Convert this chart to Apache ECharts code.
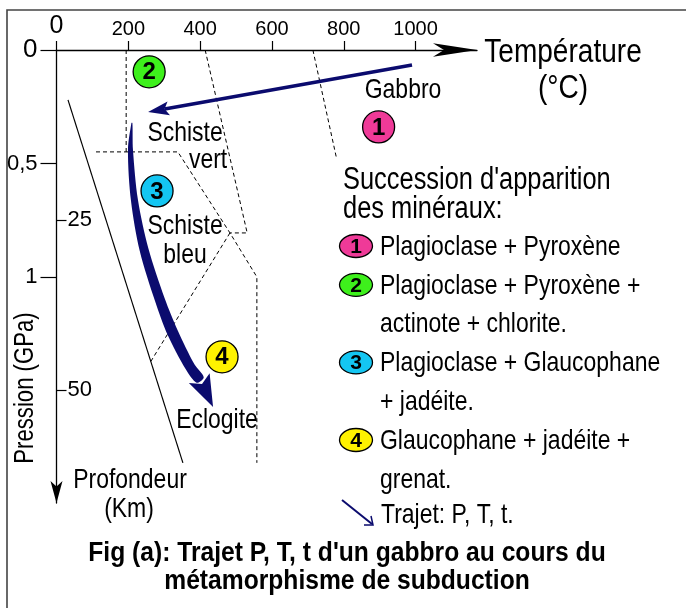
<!DOCTYPE html>
<html>
<head>
<meta charset="utf-8">
<script src="https://cdn.jsdelivr.net/npm/echarts@6/dist/echarts.min.js"></script>
<style>
html, body { margin: 0; padding: 0; background: #fff; }
#chart { width: 686px; height: 608px; }
</style>
</head>
<body>
<div id="chart"></div>
<script>
// ---- données (T en °C, P en GPa) ----
var tempTicks = [0, 200, 400, 600, 800, 1000];
var pressTicks = [0, 0.5, 1];
var depthTicks = [25, 50];

// limites des faciès (pointillés)
var faciesLines = [
    [[194, 0], [194, 0.449]],
    [[110, 0.449], [338, 0.449], [483, 0.806], [558, 1.0], [558, 1.819]],
    [[414, 0], [531, 0.806], [483, 0.806]],
    [[483, 0.806], [260, 1.379]],
    [[714, 0], [779, 0.471]]
];
// trait plein (géotherme de la plaque plongeante)
var geotherme = [[32, 0.22], [352, 1.819]];

// trajets P, T, t
var trajetGabbro = [[990, 0.066], [255, 0.273]];
var trajetSubduction = [[210, 0.322], [206, 0.441], [217, 0.661], [244, 0.881],
    [288, 1.101], [324, 1.247], [372, 1.396], [400, 1.454], [436, 1.573]];

// numéros des associations minérales
var zoneNums = ['1', '2', '3', '4'];
var zonePos = [[897, 0.339], [258, 0.096], [280, 0.621], [461, 1.352]];
var zoneColors = ['#ef3a98', '#3ef01c', '#14c6f2', '#fff200'];

// noms des faciès
var faciesNames = ['Gabbro', 'Schiste', 'vert', 'Schiste', 'bleu', 'Eclogite'];
var faciesPos = [[965, 0.176], [358, 0.366], [422, 0.485], [358, 0.775], [358, 0.903], [447, 1.63]];

// légende
var legendTitle = ["Succession d'apparition", 'des minéraux:'];
var legendNums = ['1', '2', null, '3', null, '4', null];
var legendTexts = ['Plagioclase + Pyroxène', 'Plagioclase + Pyroxène +', 'actinote + chlorite.',
    'Plagioclase + Glaucophane', '+ jadéite.', 'Glaucophane + jadéite +', 'grenat.'];
var legendTrajet = 'Trajet: P, T, t.';
var caption = ["Fig (a): Trajet P, T, t d'un gabbro au cours du", 'métamorphisme de subduction'];

var REG = "'Liberation Sans', Arial, sans-serif";
var NX = 0.82; // police étroite simulée
var NAVY = '#0b0b6e';

function narrowText(x, y, text, size, align, extra, sx) {
    return {type: 'text', x: x, y: y, scaleX: sx || NX, style: {text: text,
        font: (extra || '') + size + 'px ' + REG, fill: '#000',
        align: align || 'left', verticalAlign: 'middle'}};
}

function headPoints(tip, from, len, wid) {
    var dx = tip[0] - from[0], dy = tip[1] - from[1];
    var l = Math.sqrt(dx * dx + dy * dy);
    dx /= l; dy /= l;
    var nx = -dy, ny = dx;
    var bx = tip[0] - dx * len, by = tip[1] - dy * len;
    return [tip, [bx + nx * wid / 2, by + ny * wid / 2],
        [tip[0] - dx * len * 0.8, tip[1] - dy * len * 0.8],
        [bx - nx * wid / 2, by - ny * wid / 2]];
}

function renderGabbro(params, api) {
    var a = api.coord(trajetGabbro[0]), b = api.coord(trajetGabbro[1]);
    var head = headPoints(b, a, 21, 14);
    return {type: 'group', children: [
        {type: 'line', shape: {x1: a[0], y1: a[1], x2: head[2][0], y2: head[2][1]},
            style: {stroke: NAVY, lineWidth: 3.5}},
        {type: 'polygon', shape: {points: head}, style: {fill: NAVY}}
    ]};
}

function renderSubduction(params, api) {
    var pts = trajetSubduction.map(function (p) { return api.coord(p); });
    var n = pts.length;
    var widths = [1, 5, 7, 9, 10, 11, 10, 9];
    var left = [], right = [];
    for (var i = 0; i < n - 1; i++) {
        var a = pts[Math.max(i - 1, 0)], b = pts[Math.min(i + 1, n - 2)];
        var dx = b[0] - a[0], dy = b[1] - a[1], l = Math.sqrt(dx * dx + dy * dy);
        var nx = -dy / l, ny = dx / l, w = widths[i] / 2;
        left.push([pts[i][0] + nx * w, pts[i][1] + ny * w]);
        right.unshift([pts[i][0] - nx * w, pts[i][1] - ny * w]);
    }
    return {type: 'group', children: [
        {type: 'polygon', shape: {points: left.concat(right), smooth: 0.3}, style: {fill: NAVY}},
        {type: 'polygon', shape: {points: headPoints(pts[n - 1], pts[n - 2], 32, 23)}, style: {fill: NAVY}}
    ]};
}

function renderZone(params, api) {
    var p = api.coord([api.value(0), api.value(1)]);
    var i = params.dataIndex;
    return {type: 'group', children: [
        {type: 'circle', shape: {cx: p[0], cy: p[1], r: 16},
            style: {fill: zoneColors[i], stroke: '#000', lineWidth: 1.3}},
        {type: 'text', x: p[0], y: p[1] + 1, style: {text: zoneNums[i], fill: '#000',
            font: 'bold 24px ' + REG, align: 'center', verticalAlign: 'middle'}}
    ]};
}

function renderFacies(params, api) {
    var p = api.coord([api.value(0), api.value(1)]);
    return narrowText(p[0], p[1], faciesNames[params.dataIndex], 28, 'center');
}

var series = [];
faciesLines.forEach(function (l) {
    series.push({type: 'line', data: l, symbol: 'none', silent: true,
        lineStyle: {color: '#000', width: 1, type: [4, 3]}});
});
series.push({type: 'line', data: geotherme, symbol: 'none', silent: true,
    lineStyle: {color: '#000', width: 1.2}});
series.push({type: 'custom', data: [0], renderItem: renderGabbro, silent: true, z: 5});
series.push({type: 'custom', data: [0], renderItem: renderSubduction, silent: true, z: 5});
series.push({type: 'custom', data: zonePos, renderItem: renderZone, silent: true, z: 6});
series.push({type: 'custom', data: faciesPos, renderItem: renderFacies, silent: true, z: 6});

// légende et textes hors repère
var graphics = [
    {type: 'rect', shape: {x: 7, y: 10, width: 720, height: 640}, z: -1,
        style: {fill: 'none', stroke: '#444', lineWidth: 1.6}},
    narrowText(563, 53, 'Température', 33, 'center', '', 0.85),
    narrowText(563, 89, '(°C)', 33, 'center', '', 0.85),
    narrowText(130, 480, 'Profondeur', 28, 'center'),
    narrowText(129, 509, '(Km)', 28, 'center')
];
var pression = narrowText(26, 388, 'Pression (GPa)', 27, 'center');
pression.rotation = Math.PI / 2;
graphics.push(pression);

legendTitle.forEach(function (t, i) {
    graphics.push(narrowText(343, 180 + i * 29, t, 31));
});
legendTexts.forEach(function (t, i) {
    var y = 246 + i * 38.8;
    if (legendNums[i]) {
        var c = zoneColors[zoneNums.indexOf(legendNums[i])];
        graphics.push({type: 'ellipse', shape: {cx: 356, cy: y, rx: 16.5, ry: 11.5},
            style: {fill: c, stroke: '#000', lineWidth: 1.3}});
        graphics.push({type: 'text', x: 356, y: y + 1, style: {text: legendNums[i],
            font: 'bold 21px ' + REG, fill: '#000', align: 'center', verticalAlign: 'middle'}});
    }
    graphics.push(narrowText(380, y + 1, t, 28));
});
graphics.push({type: 'line', shape: {x1: 342, y1: 500, x2: 372, y2: 524},
    style: {stroke: NAVY, lineWidth: 2}});
graphics.push({type: 'polyline', shape: {points: [[364, 525], [373, 525], [371, 516]]},
    style: {stroke: NAVY, lineWidth: 1.5, fill: 'none'}});
graphics.push(narrowText(381, 515, legendTrajet, 28));
caption.forEach(function (t, i) {
    graphics.push(narrowText(347, 553 + i * 28, t, 28, 'center', 'bold ', 0.88));
});

var chart = echarts.init(document.getElementById('chart'));
chart.setOption({
    animation: false,
    backgroundColor: '#fff',
    grid: {left: 56.5, top: 50, width: 420.5, height: 453},
    xAxis: {
        type: 'value', position: 'top', min: 0, max: 1171,
        splitLine: {show: false},
        axisLine: {lineStyle: {color: '#000', width: 1.3}, symbol: ['none', 'arrow'], symbolSize: [10, 44]},
        axisTick: {customValues: tempTicks, length: 9, lineStyle: {color: '#000', width: 1.2}},
        axisLabel: {customValues: tempTicks, margin: 11, color: '#000', fontSize: 20, fontFamily: REG,
            formatter: function (v) { return v === 0 ? '{b|0}' : String(v); },
            rich: {b: {fontSize: 25, fontFamily: REG, color: '#000'}}}
    },
    yAxis: [{
        type: 'value', inverse: true, min: 0, max: 1.996, position: 'left',
        splitLine: {show: false},
        axisLine: {lineStyle: {color: '#000', width: 1.3}, symbol: ['arrow', 'none'], symbolSize: [9, 22]},
        axisTick: {customValues: pressTicks, length: 16, lineStyle: {color: '#000', width: 1.2}},
        axisLabel: {customValues: pressTicks, margin: 19, color: '#000', fontSize: 22, fontFamily: REG,
            formatter: function (v) { return v === 0 ? '{b|0}' : String(v).replace('.', ','); },
            rich: {b: {fontSize: 26, fontFamily: REG, color: '#000'}}}
    }, {
        type: 'value', inverse: true, min: 0, max: 66.62, position: 'right', offset: -420.5,
        splitLine: {show: false},
        axisLine: {show: false},
        axisTick: {customValues: depthTicks, length: 10, lineStyle: {color: '#000', width: 1.2}},
        axisLabel: {customValues: depthTicks, margin: 11, color: '#000', fontSize: 22, fontFamily: REG}
    }],
    series: series,
    graphic: graphics
});
</script>
</body>
</html>
